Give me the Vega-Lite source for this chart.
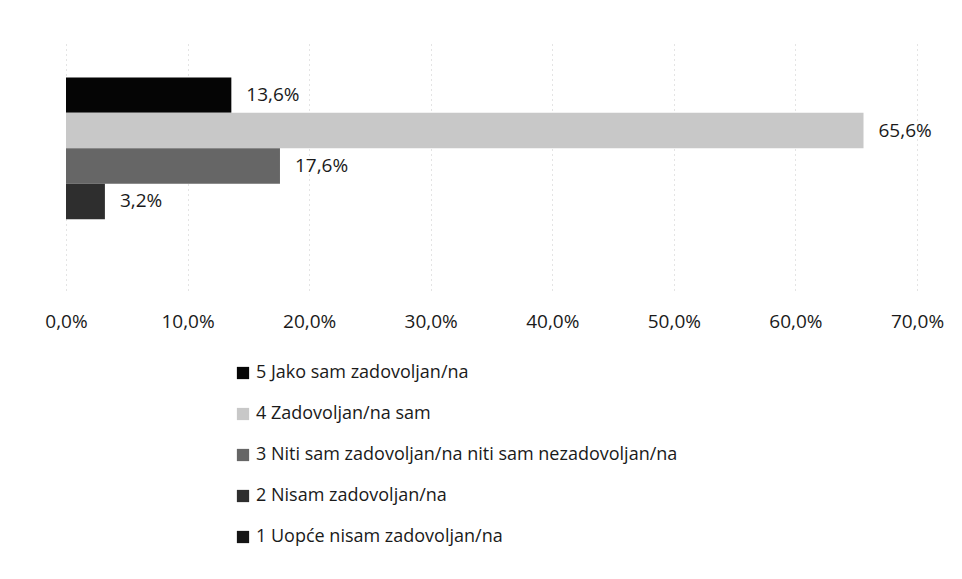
{
  "$schema": "https://vega.github.io/schema/vega-lite/v6.json",
  "autosize": {"type": "none"},
  "padding": {"left": 66, "top": 42, "right": 45, "bottom": 289},
  "width": 851,
  "height": 248,
  "background": "white",
  "config": {
    "locale": {"number": {"decimal": ",", "thousands": ".", "grouping": [3], "currency": ["", " €"]}},
    "view": {"stroke": null},
    "font": "Open Sans"
  },
  "data": {
    "values": [
      {"kategorija": "5 Jako sam zadovoljan/na", "udio": 0.136},
      {"kategorija": "4 Zadovoljan/na sam", "udio": 0.656},
      {"kategorija": "3 Niti sam zadovoljan/na niti sam nezadovoljan/na", "udio": 0.176},
      {"kategorija": "2 Nisam zadovoljan/na", "udio": 0.032},
      {"kategorija": "1 Uopće nisam zadovoljan/na", "udio": 0}
    ]
  },
  "encoding": {
    "y": {
      "field": "kategorija",
      "type": "nominal",
      "sort": ["5 Jako sam zadovoljan/na", "4 Zadovoljan/na sam", "3 Niti sam zadovoljan/na niti sam nezadovoljan/na", "2 Nisam zadovoljan/na", "1 Uopće nisam zadovoljan/na"],
      "scale": {"paddingInner": 0, "paddingOuter": 1},
      "axis": null
    },
    "x": {
      "field": "udio",
      "type": "quantitative",
      "scale": {"domain": [0, 0.7], "nice": false},
      "axis": {
        "format": ".1%",
        "values": [0, 0.1, 0.2, 0.3, 0.4, 0.5, 0.6, 0.7],
        "title": null,
        "domain": false,
        "ticks": false,
        "labelFlush": false,
        "labelPadding": 22,
        "labelFontSize": 19,
        "labelColor": "#1a1a1a",
        "grid": true,
        "gridColor": "#c8c8c8",
        "gridDash": [1, 4],
        "gridWidth": 1
      }
    }
  },
  "layer": [
    {
      "mark": {"type": "bar"},
      "encoding": {
        "color": {
          "field": "kategorija",
          "type": "nominal",
          "scale": {
            "domain": ["5 Jako sam zadovoljan/na", "4 Zadovoljan/na sam", "3 Niti sam zadovoljan/na niti sam nezadovoljan/na", "2 Nisam zadovoljan/na", "1 Uopće nisam zadovoljan/na"],
            "range": ["#050505", "#c8c8c8", "#666666", "#2e2e2e", "#151515"]
          },
          "legend": {
            "orient": "none",
            "legendX": 168,
            "legendY": 322,
            "direction": "vertical",
            "title": null,
            "symbolType": "square",
            "symbolSize": 150,
            "symbolStrokeWidth": 0,
            "labelFontSize": 18,
            "labelColor": "#1a1a1a",
            "rowPadding": 23,
            "labelOffset": 4,
            "labelLimit": 700
          }
        }
      }
    },
    {
      "transform": [{"filter": "datum.udio > 0"}],
      "mark": {"type": "text", "align": "left", "baseline": "middle", "dx": 15, "fontSize": 19, "color": "#1a1a1a"},
      "encoding": {
        "text": {"field": "udio", "type": "quantitative", "format": ".1%"}
      }
    }
  ]
}
